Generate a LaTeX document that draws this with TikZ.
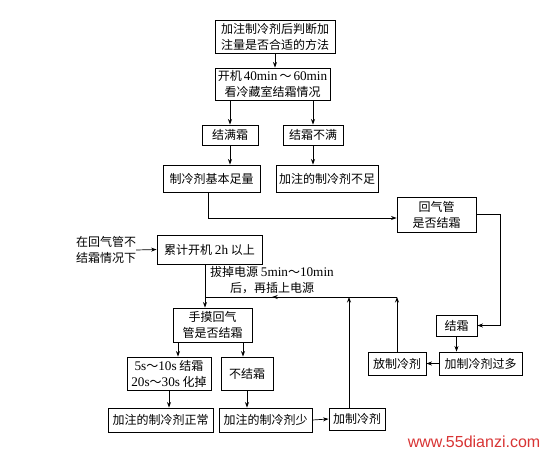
\documentclass[tikz,border=0pt]{standalone}
\usepackage{fontspec}
\setmainfont{Liberation Serif}[Scale=1.1]
\newfontfamily\cjk{Noto Sans CJK SC}
\newfontfamily\webfont{Liberation Sans}
\usetikzlibrary{arrows.meta,decorations.markings}
\newcommand{\lat}[1]{{\rmfamily #1}}
\definecolor{Mark}{HTML}{D83434}

\begin{document}
\begin{tikzpicture}[
  x=1pt, y=-1pt,
  font=\cjk\fontsize{12}{16}\selectfont,
  box/.style 2 args={draw, line width=0.9pt, inner sep=0pt, align=center, minimum width=#1, minimum height=#2},
  arrow/.style={-{Stealth[length=5.5pt,width=4pt]}, line width=0.7pt},
  plain/.style={line width=0.7pt},
  midarrow/.style={postaction={decorate}, decoration={markings, mark=at position #1 with {\arrow{Stealth[length=5.5pt,width=4pt]}}}}
]
  \useasboundingbox (0,0) rectangle (543,452);
  \node[box={120pt}{33pt}] (method) at (275,36.5) {加注制冷剂后判断加\\注量是否合适的方法};
  \node[box={115pt}{32pt}] (start) at (272.5,84) {开机\,\lat{40min}\,～\,\lat{60min}\\看冷藏室结霜情况};
  \node[box={56pt}{20pt}] (full) at (230,135) {结满霜};
  \node[box={60pt}{20pt}] (notfull) at (313,135) {结霜不满};
  \node[box={97pt}{27pt}] (enough) at (211.5,178.5) {制冷剂基本足量};
  \node[box={102pt}{27pt}] (lack) at (327,178.5) {加注的制冷剂不足};
  \node[box={79pt}{35pt}] (pipe) at (436.5,214.5) {回气管\\是否结霜};
  \node[box={41pt}{21pt}] (frost) at (456.5,325.5) {结霜};
  \node[box={83pt}{23pt}] (excess) at (480.5,363.5) {加制冷剂过多};
  \node[box={58pt}{23pt}] (release) at (397,363.5) {放制冷剂};
  \node[align=center, inner sep=0pt] (cond) at (106,250) {在回气管不\\结霜情况下};
  \node[box={105pt}{29pt}] (run2h) at (209.5,249.5) {累计开机 \lat{2h} 以上};
  \node[align=center, inner sep=0pt] (unplug) at (272,280.5) {拔掉电源 \lat{5min}～\lat{10min}\\后，再插上电源};
  \node[box={79pt}{34pt}] (touch) at (212.5,325) {手摸回气\\管是否结霜};
  \node[box={84pt}{33pt}] (timing) at (169,373.5) {\lat{5s}～\lat{10s} 结霜\\\lat{20s}～\lat{30s} 化掉};
  \node[box={52pt}{33pt}] (nofrost) at (247,373.5) {不结霜};
  \node[box={105pt}{24pt}] (normal) at (160.5,420) {加注的制冷剂正常};
  \node[box={93pt}{24pt}] (little) at (265.5,420) {加注的制冷剂少};
  \node[box={56pt}{22pt}] (add) at (357,419) {加制冷剂};
  \node[font=\webfont\fontsize{16}{16}\selectfont, text=Mark, inner sep=0pt] (site) at (474,442) {www.55dianzi.com};
  % turning points
  \coordinate (drop) at (208,218);
  \coordinate (join) at (205,297);
  \coordinate (feed) at (349,297);
  \coordinate (legA) at (178,342);
  \coordinate (legB) at (243,342);
  % upper part
  \draw[arrow] (method.south) -- (method.south |- start.north);
  \draw[arrow] (start.south -| full.north) -- (full.north);
  \draw[arrow] (start.south -| notfull.north) -- (notfull.north);
  \draw[arrow] (full.south) -- (full.south |- enough.north);
  \draw[arrow] (notfull.south) -- (notfull.south |- lack.north);
  \draw[arrow] (enough.south -| drop) |- (drop -| pipe.west);
  \draw[arrow] (pipe.east) -- ++(24,0) |- (frost.east);
  \draw[arrow] (frost.south) -- (frost.south |- excess.north);
  \draw[arrow] (excess.west) -- (release.east);
  % return line
  \draw[arrow] (release.north) -- (release.north |- join);
  \draw[arrow] (add.north -| feed) -- (feed);
  \draw[plain, midarrow=0.65] (release.north |- join) -- (join);
  \draw[arrow] (cond.east) -- (run2h.west);
  \draw[arrow] (run2h.south -| join) -- (touch.north -| join);
  % lower part
  \draw[arrow] (legA) -- (legA |- timing.north);
  \draw[arrow] (legB) -- (legB |- nofrost.north);
  \draw[arrow] (timing.south) -- (timing.south |- normal.north);
  \draw[arrow] (nofrost.south) -- (nofrost.south |- little.north);
  \draw[arrow] (little.east) -- (add.west);
\end{tikzpicture}
\end{document}
